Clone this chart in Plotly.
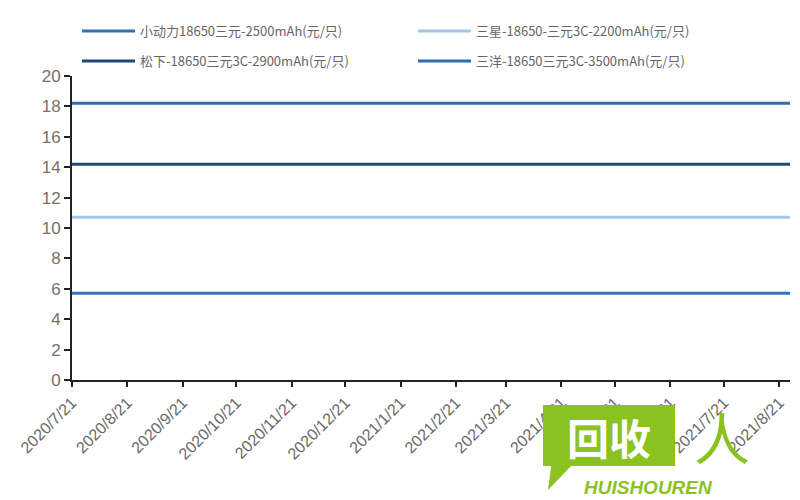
import plotly.graph_objects as go

dates = ["2020-07-21", "2020-08-21", "2020-09-21", "2020-10-21", "2020-11-21", "2020-12-21",
         "2021-01-21", "2021-02-21", "2021-03-21", "2021-04-21", "2021-05-21", "2021-06-21",
         "2021-07-21", "2021-08-21", "2021-08-27"]
tick_labels = ["2020/7/21", "2020/8/21", "2020/9/21", "2020/10/21", "2020/11/21", "2020/12/21",
               "2021/1/21", "2021/2/21", "2021/3/21", "2021/4/21", "2021/5/21", "2021/6/21",
               "2021/7/21", "2021/8/21"]

names = ["小动力18650三元-2500mAh(元/只)", "三星-18650-三元3C-2200mAh(元/只)",
         "松下-18650三元3C-2900mAh(元/只)", "三洋-18650三元3C-3500mAh(元/只)"]
xiaodongli = [5.7] * 15
sanxing = [10.7] * 15
songxia = [14.2] * 15
sanyang = [18.2] * 15
colors = ["#2f74b8", "#a3c6ea", "#1b4a78", "#2e6fb3"]
legend_ids = ["legend", "legend", "legend2", "legend2"]

fig = go.Figure()
for name, vals, c, lg in zip(names, [xiaodongli, sanxing, songxia, sanyang], colors, legend_ids):
    fig.add_trace(go.Scatter(x=dates, y=vals, mode="lines", name=name, legend=lg,
                             line=dict(color=c, width=3)))

# page body has an 8px margin: figure coords = screen coords - 8
legend_common = dict(orientation="h", xref="container", yref="container",
                     xanchor="left", yanchor="middle",
                     entrywidth=268, entrywidthmode="pixels",
                     itemwidth=53, bgcolor="rgba(0,0,0,0)",
                     font=dict(family="Noto Sans CJK SC", size=13, color="#666666"),
                     traceorder="normal")

fig.update_layout(
    width=800, height=500,
    margin=dict(l=64, r=18, t=68, b=128, autoexpand=False),
    plot_bgcolor="white", paper_bgcolor="white",
    showlegend=True,
    legend=dict(legend_common, x=69 / 800, y=1 - 23 / 500),
    legend2=dict(legend_common, x=69 / 800, y=1 - 53 / 500),
    xaxis=dict(type="date", range=["2020-07-21", "2021-08-27"], automargin=False,
               tickvals=dates[:14], ticktext=tick_labels, tickangle=-45,
               showgrid=False, zeroline=False,
               showline=True, linecolor="#222222", linewidth=2,
               ticks="outside", ticklen=5, tickcolor="#222222", tickwidth=2,
               tickfont=dict(family="Liberation Sans", size=16, color="#666666")),
    yaxis=dict(range=[0, 20], tickvals=list(range(0, 21, 2)), automargin=False,
               showgrid=False, zeroline=False,
               showline=True, linecolor="#222222", linewidth=2,
               ticks="outside", ticklen=6, tickcolor="#222222", tickwidth=2,
               tickfont=dict(family="Liberation Sans Narrow, Liberation Sans", size=17,
                             color="#7a6e66")),
)

# watermark logo approximation (paper coords relative to plot area)
def px_x(p):
    return (p - 72) / 718

def px_y(p):
    return (380 - p) / 304

fig.add_shape(type="rect", xref="paper", yref="paper", layer="above",
              x0=px_x(543), x1=px_x(675), y0=px_y(466), y1=px_y(405),
              fillcolor="#8cc21f", line=dict(width=0))
fig.add_shape(type="path", xref="paper", yref="paper", layer="above",
              path=f"M {px_x(552)} {px_y(460)} L {px_x(548)} {px_y(490)} L {px_x(575)} {px_y(462)} Z",
              fillcolor="#8cc21f", line=dict(width=0))
fig.add_annotation(xref="paper", yref="paper", x=px_x(609), y=px_y(436),
                   text="<b>回收</b>", showarrow=False, xanchor="center", yanchor="middle",
                   font=dict(family="Noto Sans CJK SC", size=42, color="white"))
fig.add_annotation(xref="paper", yref="paper", x=px_x(722), y=px_y(435),
                   text="人", showarrow=False, xanchor="center", yanchor="middle",
                   font=dict(family="Noto Sans CJK SC", size=56, color="#8cc21f"))
fig.add_annotation(xref="paper", yref="paper", x=px_x(648), y=px_y(487),
                   text="<b><i>HUISHOUREN</i></b>", showarrow=False, xanchor="center",
                   yanchor="middle",
                   font=dict(family="Liberation Sans", size=19, color="#8cc21f"))

fig.write_html("out.html")
